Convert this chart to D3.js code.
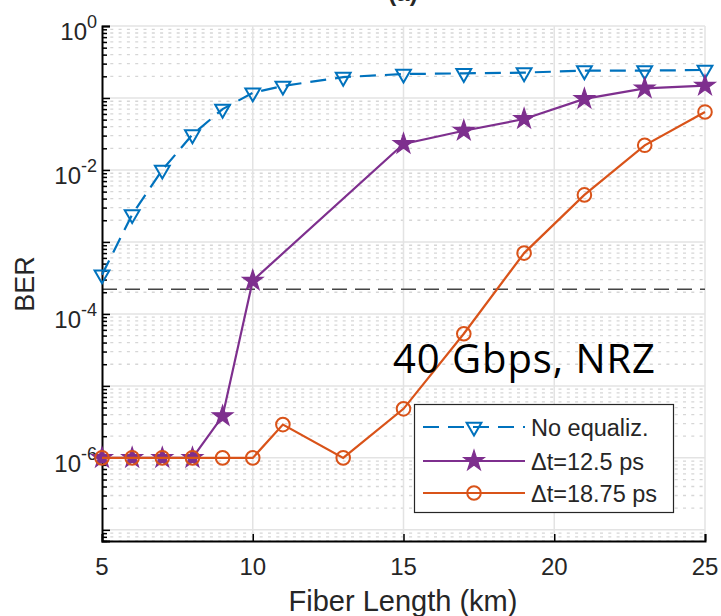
<!DOCTYPE html>
<html>
<head>
<meta charset="utf-8">
<script src="https://cdn.jsdelivr.net/npm/d3@7"></script>
<style>
  body { margin: 0; background: #fff; }
  svg { display: block; font-family: "Liberation Sans", Arial, sans-serif; }
</style>
</head>
<body>
<div id="chart"></div>
<script>
// Fiber length (km) for each measured point
const fiberLen = [5, 6, 7, 8, 9, 10, 11, 13, 15, 17, 19, 21, 23, 25];
const fiberLenEq125 = [5, 6, 7, 8, 9, 10, 15, 17, 19, 21, 23, 25];

// BER values
const berNoEq = [3.5e-4, 2.4e-3, 1.0e-2, 3.1e-2, 7.0e-2, 0.118, 0.147, 0.195, 0.215, 0.22, 0.225, 0.24, 0.24, 0.245];
const berEq125 = [1e-6, 1e-6, 1e-6, 1e-6, 3.8e-6, 2.9e-4, 2.3e-2, 3.5e-2, 5.1e-2, 9.7e-2, 0.136, 0.148];
const berEq1875 = [1e-6, 1e-6, 1e-6, 1e-6, 1e-6, 1e-6, 2.9e-6, 1e-6, 4.8e-6, 5.3e-5, 7.0e-4, 4.5e-3, 2.2e-2, 6.4e-2];

const seriesNames = ["No equaliz.", "\u0394t=12.5 ps", "\u0394t=18.75 ps"];
const fecLimit = 2.2e-4;

const xTicks = [5, 10, 15, 20, 25];
const yLabelExp = [0, -2, -4, -6];
const yDecades = [0, -1, -2, -3, -4, -5, -6, -7];

const width = 721, height = 616;
const plotLeft = 102, plotRight = 705, plotTop = 26, plotBottom = 541;

const svg = d3.select("#chart").append("svg")
    .attr("width", width)
    .attr("height", height);

const x = d3.scaleLinear().domain([5, 25]).range([plotLeft, plotRight]);
const y = d3.scaleLog().domain([7e-8, 1]).range([plotBottom, plotTop]);

// minor grid (dotted) on y
const minorVals = [];
yDecades.forEach(e => {
    for (let m = 2; m <= 9; m++) {
        const v = m * Math.pow(10, e - 1);
        if (v >= 7e-8 && v < 1) minorVals.push(v);
    }
});

svg.append("g").selectAll("line")
    .data(minorVals)
    .enter()
    .append("line")
    .attr("x1", plotLeft).attr("x2", plotRight)
    .attr("y1", d => y(d)).attr("y2", d => y(d))
    .style("stroke", "#d6d6d6")
    .style("stroke-width", 1.3)
    .style("stroke-dasharray", "3,5.3");

// major grid
svg.append("g").selectAll("line")
    .data(yDecades)
    .enter()
    .append("line")
    .attr("x1", plotLeft).attr("x2", plotRight)
    .attr("y1", d => y(Math.pow(10, d))).attr("y2", d => y(Math.pow(10, d)))
    .style("stroke", "#e3e3e3")
    .style("stroke-width", 1.5);

svg.append("g").selectAll("line")
    .data(xTicks.slice(1))
    .enter()
    .append("line")
    .attr("x1", d => x(d)).attr("x2", d => x(d))
    .attr("y1", plotTop).attr("y2", plotBottom)
    .style("stroke", "#e3e3e3")
    .style("stroke-width", 1.5);

// FEC threshold
svg.append("line")
    .attr("x1", plotLeft).attr("x2", plotRight)
    .attr("y1", y(fecLimit)).attr("y2", y(fecLimit))
    .style("stroke", "#444")
    .style("stroke-width", 1.5)
    .style("stroke-dasharray", "15,8");

// axes (ticks pointing inward)
const yAxis = d3.axisLeft(y)
    .tickValues(yDecades.map(d => Math.pow(10, d)))
    .tickSize(-8)
    .tickFormat("");
const yAxisMinor = d3.axisLeft(y)
    .tickValues(minorVals)
    .tickSize(-5)
    .tickFormat("");
const xAxis = d3.axisBottom(x)
    .tickValues(xTicks)
    .tickSize(-7)
    .tickFormat("");

function styleAxis(g) {
    g.selectAll("path").style("stroke", "#000").style("stroke-width", 2);
    g.selectAll("line").style("stroke", "#000").style("stroke-width", 1.5);
}

svg.append("g").attr("transform", `translate(${plotLeft},0)`).call(yAxisMinor).call(styleAxis)
    .select(".domain").remove();
svg.append("g").attr("transform", `translate(${plotLeft},0)`).call(yAxis).call(styleAxis);
svg.append("g").attr("transform", `translate(0,${plotBottom})`).call(xAxis).call(styleAxis);

// tick labels
svg.append("g").selectAll("text")
    .data(yLabelExp)
    .enter()
    .append("text")
    .attr("x", 97)
    .attr("y", d => y(Math.pow(10, d)) + 14)
    .attr("text-anchor", "end")
    .style("fill", "#262626")
    .style("font-size", "24px")
    .each(function (d) {
        const t = d3.select(this);
        t.append("tspan").text("10");
        t.append("tspan").attr("dy", -12).style("font-size", "18px").text(d === 0 ? "0" : "-" + Math.abs(d));
    });

svg.append("g").selectAll("text")
    .data(xTicks)
    .enter()
    .append("text")
    .attr("x", d => x(d))
    .attr("y", 575)
    .attr("text-anchor", "middle")
    .style("fill", "#262626")
    .style("font-size", "24px")
    .text(d => d);

svg.append("text")
    .attr("x", 403).attr("y", 611)
    .attr("text-anchor", "middle")
    .style("fill", "#262626")
    .style("font-size", "29px")
    .text("Fiber Length (km)");

svg.append("text")
    .attr("transform", "translate(34,284) rotate(-90)")
    .attr("text-anchor", "middle")
    .style("fill", "#262626")
    .style("font-size", "27px")
    .text("BER");

// title, cut off at the top edge as in the source image
svg.append("text")
    .attr("x", 403).attr("y", 1)
    .attr("text-anchor", "middle")
    .style("fill", "#262626")
    .style("font-size", "24px")
    .style("font-weight", "bold")
    .text("(a)");

// series
const blue = "#0072BD", purple = "#7E2F8E", orange = "#D95319";
const series = [
    { name: seriesNames[0], xs: fiberLen, ys: berNoEq, color: blue, dash: "16,9", marker: "tri" },
    { name: seriesNames[1], xs: fiberLenEq125, ys: berEq125, color: purple, dash: null, marker: "star" },
    { name: seriesNames[2], xs: fiberLen, ys: berEq1875, color: orange, dash: null, marker: "circle" }
];

const line = d3.line().x(d => x(d[0])).y(d => y(d[1]));

function drawMarker(g, type, color) {
    if (type === "circle") {
        g.append("circle").attr("r", 6.8)
            .style("fill", "none").style("stroke", color).style("stroke-width", 2);
    } else if (type === "star") {
        g.append("path").attr("d", d3.symbol().type(d3.symbolStar).size(130)())
            .style("fill", color).style("stroke", color).style("stroke-width", 1.2);
    } else {
        g.append("path").attr("d", d3.symbol().type(d3.symbolTriangle).size(95)())
            .attr("transform", "rotate(180)")
            .style("fill", "none").style("stroke", color).style("stroke-width", 2);
    }
}

series.forEach(s => {
    const pts = s.xs.map((v, i) => [v, s.ys[i]]);
    svg.append("path")
        .datum(pts)
        .attr("d", line)
        .style("fill", "none")
        .style("stroke", s.color)
        .style("stroke-width", 2.2)
        .style("stroke-dasharray", s.dash);
    pts.forEach(p => {
        const g = svg.append("g").attr("transform", `translate(${x(p[0])},${y(p[1])})`);
        drawMarker(g, s.marker, s.color);
    });
});

// annotation
svg.append("text")
    .attr("x", 393).attr("y", 373)
    .attr("textLength", 262)
    .style("font-family", "'Open Sans', sans-serif")
    .style("font-size", "40px")
    .style("fill", "#000")
    .text("40 Gbps, NRZ");

// legend
const legend = svg.append("g");
legend.append("rect")
    .attr("x", 414.5).attr("y", 404.5)
    .attr("width", 259).attr("height", 108)
    .style("fill", "#fff")
    .style("stroke", "#262626")
    .style("stroke-width", 1.2);

const rowY = [427, 461, 493];
series.forEach((s, i) => {
    legend.append("line")
        .attr("x1", 423).attr("x2", 525)
        .attr("y1", rowY[i]).attr("y2", rowY[i])
        .style("stroke", s.color)
        .style("stroke-width", 2.2)
        .style("stroke-dasharray", s.dash);
    const g = legend.append("g").attr("transform", `translate(474,${rowY[i]})`);
    drawMarker(g, s.marker, s.color);
    legend.append("text")
        .attr("x", 531).attr("y", rowY[i] + 8.5)
        .style("fill", "#262626")
        .style("font-size", "23.5px")
        .text(s.name);
});
</script>
</body>
</html>
